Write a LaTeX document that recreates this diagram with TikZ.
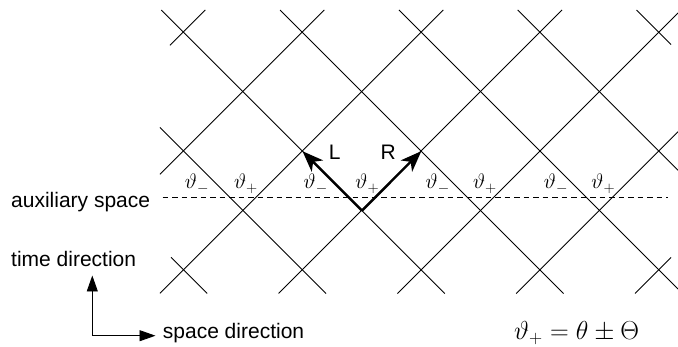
\RequirePackage{fix-cm}
\documentclass[tikz,border=0pt]{standalone}
\usepackage[no-math]{fontspec}
\newfontfamily\helv{Liberation Sans}
\usetikzlibrary{arrows.meta}
\begin{document}
\begin{tikzpicture}[x=1pt,y=-1pt,
  lat/.style={line width=0.9pt},
  aux/.style={line width=0.9pt,dash pattern=on 5.5pt off 4pt},
  move/.style={line width=2.4pt,-{Stealth[length=21pt,width=16pt,inset=6pt]}},
  axis/.style={line width=0.9pt,-{Triangle[length=16pt,width=11pt]}},
  lbl/.style={font=\fontsize{21}{24}\selectfont,anchor=base,inner sep=0pt},
  txt/.style={font=\helv\fontsize{21}{24}\selectfont,anchor=base west,inner sep=0pt},
  dirlbl/.style={font=\helv\fontsize{21}{24}\selectfont,anchor=center,inner sep=0pt},
  formula/.style={font=\fontsize{26}{30}\selectfont,anchor=base west,inner sep=0pt}]
\useasboundingbox (0,0) rectangle (678,347);
% lattice: lines x-y=c
\draw[lat] (171,257.3) -- (207.2,293.5);
\draw[lat] (160,127.5) -- (326,293.5);
\draw[lat] (161.3,10) -- (444.8,293.5);
\draw[lat] (280.1,10) -- (563.6,293.5);
\draw[lat] (398.9,10) -- (678,289.1);
\draw[lat] (517.7,10) -- (678,170.3);
\draw[lat] (636.5,10) -- (671,44.5);
% lattice: lines x+y=c
\draw[lat] (170,45.3) -- (205.3,10);
\draw[lat] (160,174.3) -- (324.3,10);
\draw[lat] (160,293.3) -- (443.3,10);
\draw[lat] (278.6,293.5) -- (562.1,10);
\draw[lat] (397.4,293.5) -- (678,12.9);
\draw[lat] (516.2,293.5) -- (678,131.7);
\draw[lat] (635,293.5) -- (671,257.5);
% auxiliary space line
\coordinate (auxA) at (162.7,197.3);
\coordinate (auxB) at (668.3,197.3);
\draw[aux] (auxA) -- (auxB);
% labels
\node[lbl] (m1) at (197,189) {$\vartheta_-$};
\node[lbl] (p1) at (246,189) {$\vartheta_+$};
\node[lbl] (m2) at (315.7,189) {$\vartheta_-$};
\node[lbl] (p2) at (367.3,189) {$\vartheta_+$};
\node[lbl] (m3) at (437.7,189) {$\vartheta_-$};
\node[lbl] (p3) at (485,189) {$\vartheta_+$};
\node[lbl] (m4) at (556,189) {$\vartheta_-$};
\node[lbl] (p4) at (603.3,189) {$\vartheta_+$};
% L and R moves
\coordinate (o) at (362,210.6);
\coordinate (l) at (302.5,151.2);
\coordinate (r) at (421.3,151.2);
\draw[move] (o) -- (l);
\draw[move] (o) -- (r);
\node[dirlbl] (L) at (334.7,152.2) {L};
\node[dirlbl] (R) at (388.3,152.2) {R};
% texts
\node[txt] (auxtxt) at (11,207.3) {auxiliary space};
\node[txt] (timetxt) at (11,266.7) {time direction};
\node[txt] (spacetxt) at (162.7,338.3) {space direction};
% axes
\coordinate (ax0) at (92.3,335.7);
\coordinate (axt) at (92.3,275.5);
\coordinate (axs) at (155.5,335.7);
\draw[axis] (ax0) -- (axt);
\draw[axis] (ax0) -- (axs);
% formula
\node[formula] (form) at (514,340) {$\vartheta_+ = \theta \pm \Theta$};
\end{tikzpicture}
\end{document}
